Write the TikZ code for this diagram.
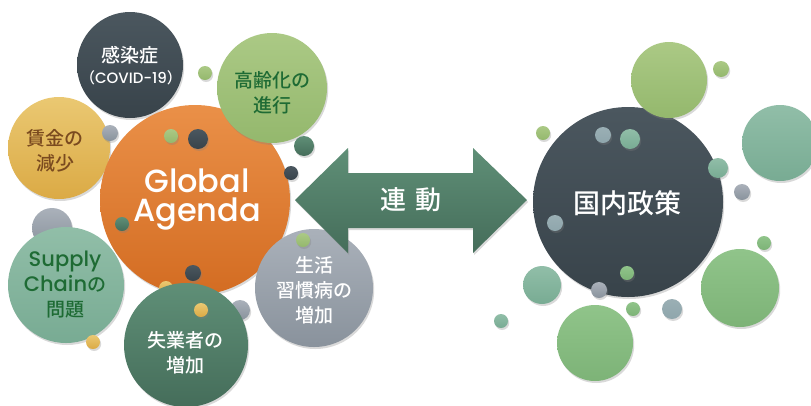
\documentclass[tikz,border=0pt]{standalone}
\usepackage{fontspec}
\setmainfont{Noto Sans CJK JP}[UprightFont=* Medium]
\newfontfamily\lat{Poppins}[UprightFont=* Medium]
\usetikzlibrary{shadows}
\definecolor{orangeT}{HTML}{EA9048}
\definecolor{orangeB}{HTML}{D36C22}
\definecolor{slateT}{HTML}{4B575F}
\definecolor{slateB}{HTML}{38434A}
\definecolor{lgreenT}{HTML}{ABC985}
\definecolor{lgreenB}{HTML}{94B86D}
\definecolor{yellowT}{HTML}{EAC872}
\definecolor{yellowB}{HTML}{DBAA45}
\definecolor{tealT}{HTML}{91BEA8}
\definecolor{tealB}{HTML}{78AB93}
\definecolor{dgreenT}{HTML}{5F8F77}
\definecolor{dgreenB}{HTML}{456D5A}
\definecolor{grayT}{HTML}{AAB1BA}
\definecolor{grayB}{HTML}{89929C}
\definecolor{greenT}{HTML}{90C48A}
\definecolor{greenB}{HTML}{7DB377}
\definecolor{bluegray}{HTML}{8FA6AC}
\definecolor{txtgreen}{HTML}{1E6B34}
\definecolor{txtbrown}{HTML}{7A4A1F}
\begin{document}
\begin{tikzpicture}[x=1pt,y=-1pt,
  ball/.style={circle, inner sep=0pt, minimum size=#1pt,
    drop shadow={opacity=0.3, shadow xshift=1.2pt, shadow yshift=-2pt}},
  orangeF/.style={top color=orangeT, bottom color=orangeB},
  slateF/.style={top color=slateT, bottom color=slateB},
  lgreenF/.style={top color=lgreenT, bottom color=lgreenB},
  yellowF/.style={top color=yellowT, bottom color=yellowB},
  tealF/.style={top color=tealT, bottom color=tealB},
  dgreenF/.style={top color=dgreenT, bottom color=dgreenB},
  grayF/.style={top color=grayT, bottom color=grayB},
  greenF/.style={top color=greenT, bottom color=greenB},
  bgF/.style={top color=bluegray!90!white, bottom color=bluegray},
  lbl/.style={align=center, inner sep=0pt, font=\fontsize{19}{25}\selectfont},
]
\useasboundingbox (0,0) rectangle (811,405);

% ---------- left cluster, back layer ----------
\node[ball=106, slateF] (covid) at (130,65) {};
\node[ball=102, yellowF] (wage) at (59,148) {};
\node[ball=40, grayF] (g1) at (52,228) {};
\node[ball=190, orangeF] (global) at (195,200) {};
\node[ball=110, lgreenF] (aging) at (272,88) {};
\node[ball=116, tealF] (supply) at (66,285) {};
\node[ball=14, yellowF] (y1) at (166,288) {};
\node[ball=20, grayF] (g2) at (240,310) {};
\node[ball=124, dgreenF] (jobless) at (186,345) {};
\node[ball=118, grayF] (life) at (314,288) {};

% ---------- double arrow ----------
\path[drop shadow={opacity=0.3, shadow xshift=1.2pt, shadow yshift=-2pt},
      top color=dgreenT, bottom color=dgreenB]
  (295,200) -- (348,148) -- (348,173) -- (473,173) -- (473,148) -- (527,200)
  -- (473,253) -- (473,228) -- (348,228) -- (348,253) -- cycle;
\node[text=white, inner sep=0pt, font=\fontsize{26}{30}\selectfont] (link) at (411,200) {連\hspace{10pt}動};

% ---------- small dots (left) ----------
\node[ball=14, lgreenF] (d1) at (205,73) {};
\node[ball=16, grayF] (d2) at (110,133) {};
\node[ball=14, lgreenF] (d3) at (171,136) {};
\node[ball=20, slateF] (d4) at (198,139) {};
\node[ball=20, dgreenF] (d5) at (304,146) {};
\node[ball=14, slateF] (d6) at (291,173) {};
\node[ball=14, dgreenF] (d7) at (122,224) {};
\node[ball=16, slateF] (d8) at (193,273) {};
\node[ball=14, yellowF] (d9) at (201,310) {};
\node[ball=14, lgreenF] (d10) at (303,240) {};
\node[ball=14, yellowF] (d11) at (93,342) {};

% ---------- labels (left) ----------
\node[lbl, text=white] (tcovid) at (130,55) {感染症};
\node[inner sep=0pt, text=white, font=\fontsize{15}{18}\selectfont] (tcovid2) at (131,78) {（{\lat COVID-19}）};
\node[lbl, text=txtgreen] (taging) at (272,93) {高齢化の\\進行};
\node[lbl, text=txtbrown] (twage) at (55,151) {賃金の\\減少};
\node[inner sep=0pt, text=white, align=center, font=\lat\fontsize{32}{29}\selectfont] (tglobal) at (197,200) {Global\\Agenda};
\node[align=center, inner sep=0pt, text=txtgreen, font=\fontsize{19}{25}\selectfont] (tsupply) at (65,285)
  {{\lat\fontsize{21}{25}\selectfont Supply}\\{\lat\fontsize{21}{25}\selectfont Chain}の\\問題};
\node[lbl, text=white] (tjob) at (185,353) {失業者の\\増加};
\node[lbl, text=white] (tlife) at (314,290) {生活\\習慣病の\\増加};

% ---------- right cluster ----------
\node[ball=190, slateF] (policy) at (628,202) {};
\node[ball=76, lgreenF] (r1) at (669,80) {};
\node[ball=16, lgreenF] (r2) at (721,69) {};
\node[ball=76, tealF] (r3) at (780,143) {};
\node[ball=20, tealF] (r4) at (718,168) {};
\node[ball=16, grayF] (r5) at (742,192) {};
\node[ball=14, lgreenF] (r6) at (543,133) {};
\node[ball=16, bgF] (r7) at (603,135) {};
\node[ball=20, tealF] (r8) at (630,139) {};
\node[ball=16, bgF] (r9) at (555,223) {};
\node[ball=14, greenF] (r10) at (627,273) {};
\node[ball=16, grayF] (r11) at (599,290) {};
\node[ball=14, greenF] (r12) at (633,309) {};
\node[ball=20, bgF] (r13) at (672,309) {};
\node[ball=38, tealF] (r14) at (542,285) {};
\node[ball=14, tealF] (r15) at (501,321) {};
\node[ball=76, greenF] (r16) at (595,343) {};
\node[ball=78, greenF] (r17) at (740,288) {};
\node[ball=14, greenF] (r18) at (764,243) {};
\node[text=white, inner sep=0pt, font=\fontsize{27}{30}\selectfont] (tpolicy) at (627,203) {国内政策};
\end{tikzpicture}
\end{document}
